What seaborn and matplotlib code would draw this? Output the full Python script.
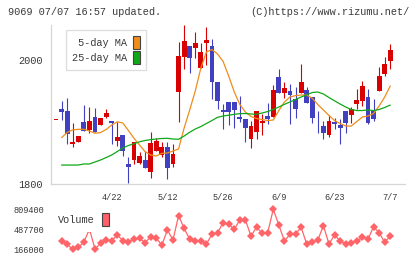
import numpy as np
import pandas as pd
import matplotlib
matplotlib.use("Agg")
import matplotlib.pyplot as plt
import matplotlib.patches as mpatches
import seaborn as sns

# daily candles (yen)
opens = [1903, 1921.0, 1917.7, 1864.5, 1868.2, 1900.0, 1887.1, 1908.1, 1895.2, 1908.5,
         1901.6, 1869.8, 1879.0, 1832.3, 1838.7, 1833.9, 1838.7, 1819.4, 1853.7, 1846.3,
         1858.9, 1832.3, 1948.9, 2005.3, 2022.6, 2019.8, 1987.6, 2027.9, 2022.6, 1965.0,
         1919.4, 1932.7, 1932.7, 1907.6, 1904.8, 1872.1, 1884.4, 1898.9, 1909.7, 1907.6,
         1973.1, 1947.3, 1950.0, 1936.6, 1947.3, 1951.6, 1940.8, 1899.2, 1893.5, 1879.0,
         1900.0, 1895.2, 1917.7, 1911.3, 1929.0, 1934.4, 1939.8, 1917.7, 1950.0, 1977.4,
         1998.9]
highs = [1903, 1933.9, 1938.7, 1898.4, 1877.4, 1927.4, 1924.2, 1922.6, 1906.9, 1921.0,
         1901.6, 1900.8, 1879.0, 1844.0, 1867.3, 1852.1, 1853.7, 1883.9, 1874.7, 1868.2,
         1867.3, 1864.5, 2029.8, 2056.5, 2022.6, 2045.2, 2027.9, 2053.7, 2033.9, 1965.0,
         1929.0, 1932.7, 1932.7, 1941.9, 1904.8, 1901.6, 1917.7, 1912.9, 1930.2, 1959.7,
         1985.5, 1964.0, 1961.3, 1956.9, 1993.5, 1956.0, 1940.8, 1917.7, 1901.6, 1911.3,
         1906.0, 1904.4, 1917.7, 1923.7, 1953.2, 1966.1, 1952.7, 1937.1, 1988.2, 2004.4,
         2025.8]
lows = [1903, 1903.2, 1864.5, 1860.2, 1868.2, 1886.0, 1882.3, 1883.9, 1895.2, 1906.5,
        1864.5, 1860.5, 1845.2, 1801.0, 1832.3, 1832.3, 1825.8, 1810.2, 1853.7, 1844.0,
        1807.3, 1827.9, 1900.5, 1985.5, 1978.5, 2003.7, 1987.6, 1991.9, 1937.1, 1921.0,
        1888.2, 1895.2, 1890.8, 1900.5, 1868.2, 1858.5, 1872.1, 1879.0, 1896.3, 1907.6,
        1946.3, 1939.2, 1896.3, 1906.9, 1947.3, 1931.1, 1897.9, 1881.8, 1872.1, 1876.3,
        1888.2, 1864.0, 1882.7, 1897.9, 1920.5, 1925.8, 1896.8, 1901.6, 1950.0, 1974.7,
        1985.5]
closes = [1903, 1916.1, 1880.6, 1868.2, 1877.4, 1886.0, 1902.1, 1883.9, 1906.9, 1914.0,
          1897.6, 1876.3, 1853.2, 1827.0, 1867.3, 1845.2, 1825.8, 1866.1, 1869.4, 1859.2,
          1826.3, 1849.2, 2006.5, 2030.6, 2003.7, 2027.9, 2012.9, 2032.3, 1965.0, 1934.4,
          1916.6, 1916.6, 1919.4, 1904.8, 1890.8, 1893.5, 1917.7, 1901.6, 1904.8, 1951.6,
          1946.3, 1954.4, 1943.5, 1921.0, 1965.0, 1931.1, 1906.0, 1897.6, 1882.7, 1901.6,
          1896.8, 1890.8, 1898.9, 1921.0, 1935.5, 1958.1, 1898.9, 1904.4, 1974.2, 1993.5,
          2016.1]

ma5 = [np.nan, 1874.7, 1883.1, 1887.4, 1888.2, 1888.2, 1885.5, 1881.8, 1883.1, 1887.9,
       1895.2, 1900.3, 1898.4, 1886.3, 1873.7, 1862.9, 1852.1, 1846.8, 1845.2, 1849.5,
       1850.0, 1853.2, 1856.5, 1890.3, 1919.4, 1950.0, 1987.1, 2012.9, 2016.9, 2009.7,
       1997.6, 1974.2, 1948.4, 1928.2, 1916.1, 1908.9, 1905.6, 1904.0, 1902.4, 1903.2,
       1918.5, 1932.3, 1940.3, 1942.7, 1943.5, 1943.5, 1938.2, 1928.2, 1919.4, 1910.5,
       1902.4, 1897.6, 1893.5, 1893.5, 1900.8, 1908.1, 1909.7, 1913.7, 1925.8, 1940.3,
       1958.1]
ma25 = [np.nan, 1830.6, 1830.6, 1830.6, 1830.6, 1832.3, 1832.3, 1835.5, 1838.7, 1842.7,
        1846.8, 1852.4, 1858.1, 1862.1, 1865.0, 1868.1, 1870.2, 1871.6, 1872.6, 1873.4,
        1873.7, 1872.6, 1872.1, 1877.4, 1883.5, 1888.7, 1892.7, 1897.6, 1902.4, 1907.6,
        1909.7, 1911.0, 1912.4, 1913.5, 1913.7, 1912.9, 1912.4, 1914.5, 1916.9, 1920.2,
        1924.2, 1928.5, 1932.3, 1936.3, 1940.3, 1943.9, 1947.6, 1948.4, 1945.2, 1939.5,
        1934.2, 1929.0, 1924.2, 1920.2, 1918.5, 1918.5, 1919.4, 1918.5, 1920.2, 1923.4,
        1927.4]

volume = [np.nan, 299500, 246400, 166000, 198200, 278600, 492500, 170800, 262500, 315600,
          304300, 396000, 304300, 288200, 331700, 342900, 272200, 368700, 342900, 235200,
          476400, 315600, 706500, 503800, 326900, 307500, 299500, 251300, 408900, 428200,
          597100, 568100, 487700, 637300, 637300, 379900, 519900, 423400, 433000, 809400,
          556900, 299500, 407300, 412100, 519900, 251300, 278600, 315600, 545600, 251300,
          396000, 299500, 251300, 272200, 299500, 359000, 326900, 529500, 433000, 278600,
          379900]

date_labels = ["4/22", "5/12", "5/26", "6/9", "6/23", "7/7"]
price_ticks = [1800, 2000]
vol_ticks = [166000, 487700, 809400]

df = pd.DataFrame({"open": opens, "high": highs, "low": lows, "close": closes,
                   "ma5": ma5, "ma25": ma25, "volume": volume})
df["day"] = np.arange(len(df))

RED = "#d80000"
BLUE = "#4040c0"
ORANGE = "#f08c1a"
GREEN = "#10a818"
VOLC = "#ff6468"
GRID = "#d6d6d6"
TXT = "#3a3a3a"

sns.set_style("white")
plt.rcParams["font.family"] = ["Liberation Mono", "DejaVu Sans Mono"]

W, H = 420, 259
fig = plt.figure(figsize=(W / 100, H / 100), dpi=100)
ax = fig.add_axes([50.7 / W, 1 - 184 / H, 354.6 / W, 159 / H])
axv = fig.add_axes([50.7 / W, 1 - 253 / H, 354.6 / W, 48 / H])

xlim = (-0.95, 62.7)

# candles
up = df["close"] >= df["open"]
colors = np.where(up, RED, BLUE)
ax.vlines(df["day"], df["low"], df["high"], colors=colors, linewidth=0.8, zorder=2)
body = (df["close"] - df["open"]).abs().clip(lower=1.6)
ax.bar(df["day"], body, bottom=df[["open", "close"]].min(axis=1), width=0.88,
       color=colors, linewidth=0, zorder=3)

# moving averages
sns.lineplot(data=df, x="day", y="ma5", ax=ax, color=ORANGE, linewidth=0.9,
             estimator=None, zorder=4)
sns.lineplot(data=df, x="day", y="ma25", ax=ax, color=GREEN, linewidth=0.9,
             estimator=None, zorder=4)

ax.set_xlim(*xlim)
ax.set_ylim(1800, 2056.5)
ax.set_xlabel("")
ax.set_ylabel("")
for s in ["top", "right"]:
    ax.spines[s].set_visible(False)
for s in ["left", "bottom"]:
    ax.spines[s].set_color(GRID)
    ax.spines[s].set_linewidth(0.9)
ax.set_xticks(np.linspace(xlim[0], xlim[1], 12))
ax.set_xticklabels([])
ax.set_yticks(price_ticks)
ax.set_yticklabels([str(t) for t in price_ticks])
ax.tick_params(axis="both", direction="inout", length=6, width=0.9, color=GRID,
               labelsize=7.4, labelcolor=TXT, pad=3)

handles = [mpatches.Patch(facecolor=ORANGE, edgecolor="#444444", linewidth=0.8, label="5-day MA"),
           mpatches.Patch(facecolor=GREEN, edgecolor="#444444", linewidth=0.8, label="25-day MA")]
leg = ax.legend(handles=handles, loc="upper left", bbox_to_anchor=(0.042, 0.969),
                markerfirst=False, handlelength=0.7, handleheight=1.55,
                handletextpad=0.6, labelspacing=0.2, borderpad=0.6, borderaxespad=0,
                fontsize=7.4, frameon=True, fancybox=False, framealpha=1)
leg.get_frame().set_edgecolor("#dddddd")
leg.get_frame().set_linewidth(0.9)
for t in leg.get_texts():
    t.set_color(TXT)

# volume panel
sns.lineplot(data=df, x="day", y="volume", ax=axv, color=VOLC, linewidth=0.9,
             marker="D", markersize=4.0, markeredgewidth=0, estimator=None)
axv.set_xlim(*xlim)
axv.set_ylim(106500, 878600)
axv.set_xlabel("")
axv.set_ylabel("")
for s in axv.spines.values():
    s.set_visible(False)
axv.set_yticks(vol_ticks)
axv.set_yticklabels([str(v) for v in vol_ticks])
axv.xaxis.tick_top()
axv.set_xticks(list(range(10, len(df), 10)))
axv.set_xticklabels(date_labels)
axv.tick_params(axis="y", length=0, labelsize=6.2, labelcolor=TXT, pad=4.8)
axv.tick_params(axis="x", length=0, labelsize=6.2, labelcolor=TXT, pad=2.5)

vleg = axv.legend(handles=[mpatches.Patch(facecolor="#ff6068", edgecolor="#444444",
                                          linewidth=0.8, label="Volume")],
                  loc="upper left", bbox_to_anchor=(0.004, 0.958), markerfirst=False,
                  handlelength=0.7, handleheight=1.5, handletextpad=0.7,
                  borderpad=0.6, borderaxespad=0, fontsize=7.4, frameon=True,
                  fancybox=False, framealpha=1)
vleg.get_frame().set_edgecolor("none")
for t in vleg.get_texts():
    t.set_color(TXT)

fig.text(8 / W, 1 - 11.7 / H, "9069 07/07 16:57 updated.", ha="left", va="center",
         fontsize=7.4, color=TXT)
fig.text(410 / W, 1 - 11.7 / H, "(C)https://www.rizumu.net/", ha="right", va="center",
         fontsize=7.4, color=TXT)

fig.savefig("out.png", dpi=100)
